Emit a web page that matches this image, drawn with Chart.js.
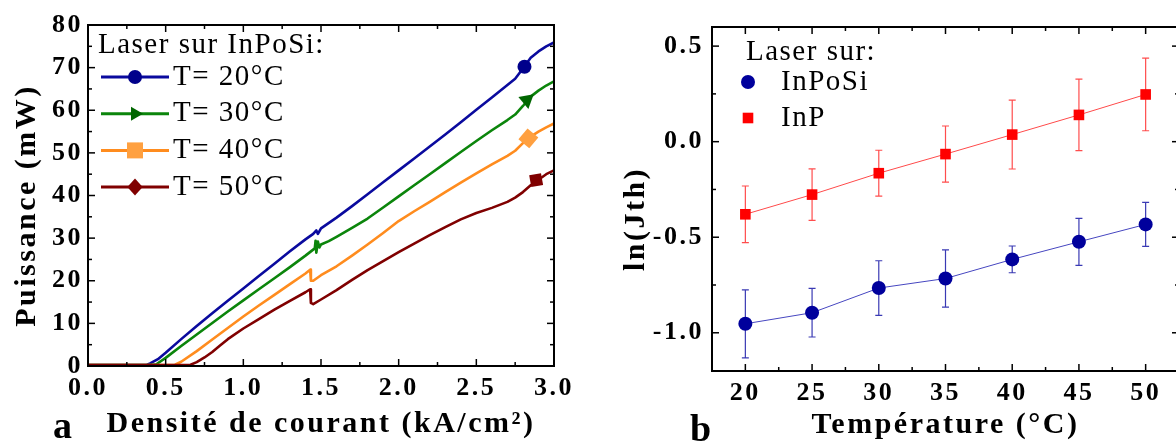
<!DOCTYPE html>
<html>
<head>
<meta charset="utf-8">
<script src="https://cdn.jsdelivr.net/npm/chart.js@4.4.1/dist/chart.umd.min.js"></script>
<style>
	html, body { margin: 0; padding: 0; background: #fff; overflow: hidden; width: 1176px; height: 444px; }
	.panel { position: absolute; top: 0; height: 444px; }
	#left { left: 0; width: 600px; }
	#right { left: 600px; width: 620px; }
	.tag { position: absolute; font: bold 38px "Liberation Serif", serif; line-height: 1; color: #000; }
</style>
</head>
<body>
<div class="panel" id="left"><canvas id="chartA"></canvas></div>
<div class="panel" id="right"><canvas id="chartB"></canvas></div>
<div class="tag" style="left:53px; top:406px;">a</div>
<div class="tag" style="left:690px; top:409px;">b</div>
<script>
'use strict';

// panel a: output power vs current density, one pair of arrays per temperature
const j20 = [0, 0.1, 0.2, 0.3, 0.38, 0.4, 0.45, 0.5, 0.6, 0.7, 0.8, 0.9, 1.0, 1.1, 1.2, 1.3, 1.4, 1.45, 1.47, 1.48, 1.5, 1.6, 1.7, 1.8, 1.9, 2.0, 2.1, 2.2, 2.3, 2.4, 2.5, 2.6, 2.7, 2.75, 2.8, 2.85, 2.9, 2.95, 3.0];
const p20 = [0.2, 0.2, 0.2, 0.2, 0.3, 0.6, 1.6, 3.1, 6.3, 9.4, 12.4, 15.3, 18.2, 21.1, 24.0, 26.9, 29.7, 31.0, 31.8, 31.0, 32.3, 34.8, 37.5, 40.3, 43.1, 45.9, 48.7, 51.5, 54.3, 57.2, 60.1, 63.0, 65.9, 67.4, 69.8, 72.3, 73.8, 75.0, 75.9];

const j30 = [0, 0.1, 0.2, 0.3, 0.4, 0.44, 0.5, 0.6, 0.7, 0.8, 0.9, 1.0, 1.1, 1.2, 1.3, 1.4, 1.46, 1.465, 1.47, 1.48, 1.49, 1.5, 1.55, 1.6, 1.7, 1.8, 1.9, 2.0, 2.1, 2.2, 2.3, 2.4, 2.5, 2.6, 2.7, 2.75, 2.8, 2.85, 2.9, 2.95, 3.0];
const p30 = [0.2, 0.2, 0.2, 0.2, 0.2, 0.4, 1.9, 4.7, 7.4, 10.1, 12.8, 15.4, 18.0, 20.6, 23.2, 25.9, 27.6, 29.4, 26.6, 29.2, 27.8, 28.5, 29.3, 30.3, 32.4, 34.6, 37.2, 39.8, 42.4, 45.0, 47.6, 50.2, 52.8, 55.3, 57.7, 59.0, 61.0, 63.2, 64.6, 65.8, 66.8];

const j40 = [0, 0.1, 0.2, 0.3, 0.4, 0.5, 0.56, 0.6, 0.7, 0.8, 0.9, 1.0, 1.1, 1.2, 1.3, 1.4, 1.43, 1.435, 1.45, 1.5, 1.6, 1.7, 1.8, 1.9, 2.0, 2.1, 2.2, 2.3, 2.4, 2.5, 2.6, 2.7, 2.75, 2.8, 2.85, 2.9, 2.95, 3.0];
const p40 = [0.2, 0.2, 0.2, 0.2, 0.2, 0.2, 0.3, 1.0, 3.5, 6.2, 8.9, 11.6, 14.2, 16.7, 19.2, 21.7, 22.6, 20.0, 20.0, 21.3, 23.4, 25.9, 28.5, 31.2, 34.0, 36.3, 38.5, 40.8, 43.0, 45.2, 47.3, 49.3, 50.5, 52.3, 53.8, 55.0, 56.0, 56.9];

const j50 = [0, 0.1, 0.2, 0.3, 0.4, 0.5, 0.6, 0.66, 0.7, 0.75, 0.8, 0.85, 0.9, 1.0, 1.1, 1.2, 1.3, 1.4, 1.43, 1.435, 1.45, 1.5, 1.6, 1.7, 1.8, 1.9, 2.0, 2.1, 2.2, 2.3, 2.4, 2.5, 2.6, 2.7, 2.75, 2.8, 2.85, 2.9, 2.95, 3.0];
const p50 = [0.2, 0.2, 0.2, 0.2, 0.2, 0.2, 0.2, 0.3, 0.9, 2.0, 3.3, 4.8, 6.3, 8.8, 11.0, 13.2, 15.3, 17.3, 18.0, 14.8, 14.5, 15.6, 17.8, 20.2, 22.5, 24.6, 26.7, 28.7, 30.7, 32.6, 34.4, 35.9, 37.1, 38.5, 39.5, 40.8, 42.4, 43.7, 45.0, 45.9];

const markerJ = [2.81, 2.825, 2.835, 2.885];
const markerP = [70.2, 62.4, 53.4, 43.6];
const seriesNames = ['T= 20°C', 'T= 30°C', 'T= 40°C', 'T= 50°C'];

const currentTicks = [0, 0.5, 1.0, 1.5, 2.0, 2.5, 3.0];
const powerTicks = [0, 10, 20, 30, 40, 50, 60, 70, 80];

// panel b: ln(Jth) vs temperature with error bars
const temps = [20, 25, 30, 35, 40, 45, 50];
const lnInPoSi = [-0.953, -0.895, -0.766, -0.716, -0.616, -0.524, -0.433];
const errInPoSi = [0.178, 0.127, 0.143, 0.15, 0.07, 0.123, 0.115];
const lnInP = [-0.38, -0.277, -0.165, -0.065, 0.037, 0.14, 0.247];
const errInP = [0.148, 0.135, 0.12, 0.147, 0.18, 0.187, 0.19];

const tempTicks = [20, 25, 30, 35, 40, 45, 50];
const lnTicks = [-1.0, -0.5, 0.0, 0.5];

const FONT = '"Liberation Serif", "Times New Roman", serif';

function toPoints(xs, ys) {
	return xs.map((x, i) => ({ x, y: ys[i] }));
}

// the picture's text is set wide, so space the letters a little
const spacing = {
	id: 'spacing',
	beforeDraw(chart) {
		chart.ctx.letterSpacing = '2.5px';
	},
};

// closed frame with inward major and minor ticks on all four sides
const frameTicks = {
	id: 'frameTicks',
	afterDraw(chart, args, opts) {
		const { ctx, chartArea: a } = chart;
		const { x, y } = chart.scales;
		const seg = (x0, y0, x1, y1) => {
			ctx.beginPath();
			ctx.moveTo(x0, y0);
			ctx.lineTo(x1, y1);
			ctx.stroke();
		};
		const minors = (vals) => vals.slice(1).map((v, i) => (v + vals[i]) / 2);

		ctx.save();
		ctx.strokeStyle = '#000';
		ctx.lineWidth = 1.5;
		const xs = x.ticks.map((t) => t.value);
		const ys = y.ticks.map((t) => t.value);
		xs.forEach((v) => {
			const px = x.getPixelForValue(v);
			seg(px, a.bottom, px, a.bottom - 7);
			seg(px, a.top, px, a.top + 7);
		});
		minors(xs).forEach((v) => {
			const px = x.getPixelForValue(v);
			seg(px, a.bottom, px, a.bottom - 4);
			seg(px, a.top, px, a.top + 4);
		});
		ys.forEach((v) => {
			const py = y.getPixelForValue(v);
			seg(a.left, py, a.left + 7, py);
			seg(a.right, py, a.right - 7, py);
		});
		minors(ys).forEach((v) => {
			const py = y.getPixelForValue(v);
			seg(a.left, py, a.left + 4, py);
			seg(a.right, py, a.right - 4, py);
		});
		ctx.lineWidth = opts.frameWidth || 2;
		ctx.strokeRect(a.left, a.top, a.right - a.left, a.bottom - a.top);
		ctx.restore();
	},
};

// vertical error bars with caps, drawn under the markers
const errorBars = {
	id: 'errorBars',
	beforeDatasetsDraw(chart) {
		const { ctx } = chart;
		const { x, y } = chart.scales;
		chart.data.datasets.forEach((ds) => {
			if (!ds.errors) return;
			ctx.save();
			ctx.strokeStyle = ds.errorColor;
			ctx.lineWidth = 1.2;
			ds.data.forEach((pt, i) => {
				const px = x.getPixelForValue(pt.x);
				const top = y.getPixelForValue(pt.y + ds.errors[i]);
				const bot = y.getPixelForValue(pt.y - ds.errors[i]);
				ctx.beginPath();
				ctx.moveTo(px, top);
				ctx.lineTo(px, bot);
				ctx.moveTo(px - 3.5, top);
				ctx.lineTo(px + 3.5, top);
				ctx.moveTo(px - 3.5, bot);
				ctx.lineTo(px + 3.5, bot);
				ctx.stroke();
			});
			ctx.restore();
		});
	},
};

function drawMarker(ctx, m, x, y) {
	const r = m.r;
	ctx.save();
	ctx.fillStyle = m.color;
	ctx.translate(x, y);
	ctx.rotate(((m.rotation || 0) * Math.PI) / 180);
	ctx.beginPath();
	if (m.style === 'circle') {
		ctx.arc(0, 0, r, 0, Math.PI * 2);
	} else if (m.style === 'triangle') {
		for (let k = 0; k < 3; k++) {
			const ang = (k * 2 * Math.PI) / 3;
			ctx.lineTo(Math.sin(ang) * r, -Math.cos(ang) * r);
		}
		ctx.closePath();
	} else if (m.style === 'rect') {
		ctx.rect(-r, -r, 2 * r, 2 * r);
	} else if (m.style === 'rectRot') {
		ctx.moveTo(0, -r);
		ctx.lineTo(r * 0.9, 0);
		ctx.lineTo(0, r);
		ctx.lineTo(-r * 0.9, 0);
		ctx.closePath();
	}
	ctx.fill();
	ctx.restore();
}

// boxless key: a title line and one row per series
const seriesKey = {
	id: 'seriesKey',
	afterDraw(chart, args, opts) {
		const { ctx } = chart;
		ctx.save();
		ctx.letterSpacing = '1.5px';
		ctx.font = '29px ' + FONT;
		ctx.fillStyle = '#000';
		ctx.textBaseline = 'middle';
		ctx.fillText(opts.title, opts.titleX, opts.titleY);
		opts.items.forEach((item, i) => {
			const y = opts.top + i * opts.step;
			if (item.line) {
				ctx.strokeStyle = item.line;
				ctx.lineWidth = 3;
				ctx.beginPath();
				ctx.moveTo(opts.lineFrom, y);
				ctx.lineTo(opts.lineTo, y);
				ctx.stroke();
			}
			drawMarker(ctx, item, opts.markX, y);
			ctx.fillStyle = '#000';
			ctx.fillText(item.label, opts.textX, y);
		});
		ctx.restore();
	},
};

function axis({ min, max, ticks, format, title, size, pad, titlePad }) {
	return {
		type: 'linear',
		min,
		max,
		grid: { display: false, drawTicks: false },
		border: { display: false },
		afterBuildTicks: (scale) => {
			scale.ticks = ticks.map((v) => ({ value: v }));
		},
		afterFit: (scale) => {
			if (scale.isHorizontal()) scale.height = size;
			else scale.width = size;
		},
		ticks: {
			autoSkip: false,
			maxRotation: 0,
			padding: pad,
			color: '#000',
			font: { family: FONT, size: 26, weight: 'bold' },
			callback: format,
		},
		title: {
			display: true,
			text: title,
			color: '#000',
			font: { family: FONT, size: 30, weight: 'bold' },
			padding: titlePad,
		},
	};
}

const curveColors = ['#0a0a9e', '#0b850b', '#ff8c1e', '#800000'];
const markColors = ['#00008b', '#006600', '#ffa040', '#800000'];
const curveJ = [j20, j30, j40, j50];
const curveP = [p20, p30, p40, p50];
const curveMarks = [
	{ style: 'circle', r: 7, rotation: 0 },
	{ style: 'triangle', r: 9, rotation: 50 },
	{ style: 'rect', r: 10, rotation: 40 },
	{ style: 'rectRot', r: 8.5, rotation: 35 },
];
const keyMarks = [
	{ style: 'circle', r: 7, rotation: 0 },
	{ style: 'triangle', r: 8, rotation: 90 },
	{ style: 'rect', r: 8, rotation: 0 },
	{ style: 'rectRot', r: 8.5, rotation: 0 },
];

function buildCurves() {
	const lines = curveJ.map((js, i) => ({
		data: toPoints(js, curveP[i]),
		borderColor: curveColors[i],
		borderWidth: 2.6,
		borderJoinStyle: 'round',
		pointRadius: 0,
		order: 10 - i,
	}));
	const marks = markerJ.map((j, i) => ({
		data: [{ x: j, y: markerP[i] }],
		showLine: false,
		pointStyle: curveMarks[i].style,
		pointRadius: curveMarks[i].r,
		pointRotation: curveMarks[i].rotation,
		pointBackgroundColor: markColors[i],
		pointBorderColor: markColors[i],
		pointBorderWidth: 0,
		order: -i,
	}));
	return lines.concat(marks);
}

function displayPanelA() {
	new Chart(document.getElementById('chartA'), {
		type: 'line',
		data: { datasets: buildCurves() },
		options: {
			responsive: true,
			maintainAspectRatio: false,
			animation: false,
			layout: { padding: { left: 0, right: 46, top: 25, bottom: 0 } },
			scales: {
				x: axis({ min: 0, max: 3, ticks: currentTicks, format: (v) => v.toFixed(1), title: 'Densité de courant (kA/cm²)', size: 78, pad: 7, titlePad: { top: 0, bottom: 2 } }),
				// trailing spaces push the rotated title a little lower, as in the picture
				y: axis({ min: 0, max: 80, ticks: powerTicks, format: (v) => String(v), title: 'Puissance (mW)  ', size: 88, pad: 5, titlePad: { top: 9, bottom: 0 } }),
			},
			plugins: {
				legend: { display: false },
				tooltip: { enabled: false },
				frameTicks: { frameWidth: 2 },
				seriesKey: {
					title: 'Laser sur InPoSi:',
					titleX: 98,
					titleY: 45,
					top: 77,
					step: 36.7,
					lineFrom: 101,
					lineTo: 169,
					markX: 135,
					textX: 173,
					items: seriesNames.map((label, i) => ({ label, line: curveColors[i], color: markColors[i], ...keyMarks[i] })),
				},
			},
		},
		plugins: [spacing, frameTicks, seriesKey],
	});
}

function displayPanelB() {
	new Chart(document.getElementById('chartB'), {
		type: 'line',
		data: {
			datasets: [
				{
					data: toPoints(temps, lnInPoSi),
					errors: errInPoSi,
					errorColor: '#3a3ab4',
					borderColor: '#4646c0',
					borderWidth: 1,
					pointStyle: 'circle',
					pointRadius: 7,
					pointBackgroundColor: '#00009c',
					pointBorderColor: '#00009c',
					pointBorderWidth: 0,
				},
				{
					data: toPoints(temps, lnInP),
					errors: errInP,
					errorColor: '#ff4d4d',
					borderColor: '#ff4a4a',
					borderWidth: 1,
					pointStyle: 'rect',
					pointRadius: 7.5,
					pointBackgroundColor: '#ff0000',
					pointBorderColor: '#ff0000',
					pointBorderWidth: 0,
				},
			],
		},
		options: {
			responsive: true,
			maintainAspectRatio: false,
			animation: false,
			layout: { padding: { left: 0, right: 41, top: 27, bottom: 0 } },
			scales: {
				x: axis({ min: 17.5, max: 52.5, ticks: tempTicks, format: (v) => String(v), title: 'Température (°C)', size: 73, pad: 7, titlePad: { top: 0, bottom: 1 } }),
				y: axis({ min: -1.2, max: 0.6, ticks: lnTicks, format: (v) => v.toFixed(1), title: 'ln(Jth)    ', size: 112, pad: 8, titlePad: { top: 18, bottom: 0 } }),
			},
			plugins: {
				legend: { display: false },
				tooltip: { enabled: false },
				frameTicks: { frameWidth: 2 },
				seriesKey: {
					title: 'Laser sur:',
					titleX: 146,
					titleY: 52,
					top: 82,
					step: 36,
					markX: 148,
					textX: 181,
					items: [
						{ label: 'InPoSi', color: '#00009c', style: 'circle', r: 7 },
						{ label: 'InP', color: '#ff0000', style: 'rect', r: 5.3 },
					],
				},
			},
		},
		plugins: [spacing, frameTicks, errorBars, seriesKey],
	});
}

displayPanelA();
displayPanelB();
</script>
</body>
</html>
